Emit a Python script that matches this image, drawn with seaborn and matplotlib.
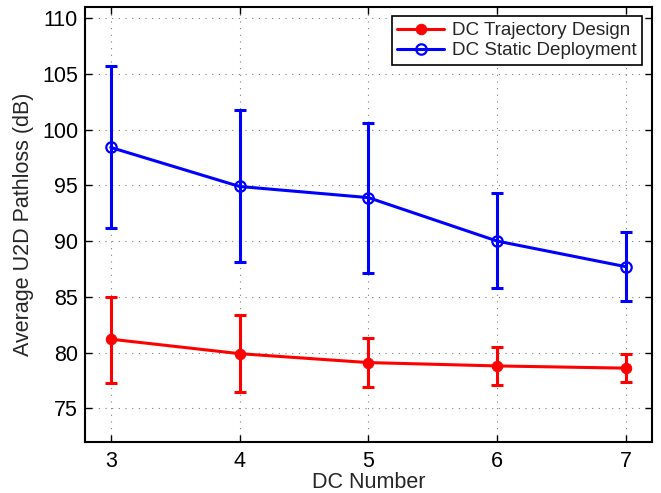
import numpy as np
import pandas as pd
import seaborn as sns
import matplotlib.pyplot as plt

# 데이터
dc_number = [3, 4, 5, 6, 7]
traj_mean = [81.2, 79.9, 79.1, 78.8, 78.6]
traj_low = [77.3, 76.5, 76.9, 77.1, 77.4]
traj_high = [85.0, 83.4, 81.3, 80.5, 79.9]
static_mean = [98.4, 94.9, 93.9, 90.0, 87.7]
static_low = [91.2, 88.1, 87.1, 85.8, 84.6]
static_high = [105.7, 101.8, 100.6, 94.3, 90.8]

sns.set_style("ticks")
plt.rcParams['font.family'] = ['Liberation Sans', 'DejaVu Sans']
plt.rcParams['xtick.direction'] = 'in'
plt.rcParams['ytick.direction'] = 'in'

df = pd.DataFrame({
    'DC Number': dc_number * 2,
    'pathloss': traj_mean + static_mean,
    'series': ['DC Trajectory Design'] * 5 + ['DC Static Deployment'] * 5,
})

fig = plt.figure(figsize=(6.61, 4.93), dpi=100)
ax = fig.add_axes([0.1286, 0.104, 0.8574, 0.8818])

ax.grid(True, color='gray', linestyle=(0, (1, 5)), linewidth=0.8)
ax.set_axisbelow(True)

# 에러바
ax.errorbar(dc_number, traj_mean,
            yerr=[np.subtract(traj_mean, traj_low), np.subtract(traj_high, traj_mean)],
            fmt='none', ecolor='red', elinewidth=2.2, capsize=4, capthick=2.2, zorder=3)
ax.errorbar(dc_number, static_mean,
            yerr=[np.subtract(static_mean, static_low), np.subtract(static_high, static_mean)],
            fmt='none', ecolor='blue', elinewidth=2.2, capsize=4, capthick=2.2, zorder=3)

sns.lineplot(data=df[df['series'] == 'DC Trajectory Design'], x='DC Number', y='pathloss',
             color='red', linewidth=2.2, marker='o', markersize=7.5,
             markerfacecolor='red', markeredgecolor='red',
             label='DC Trajectory Design', ax=ax, zorder=4)
sns.lineplot(data=df[df['series'] == 'DC Static Deployment'], x='DC Number', y='pathloss',
             color='blue', linewidth=2.2, marker='o', markersize=7.5,
             markerfacecolor='none', markeredgecolor='blue', markeredgewidth=1.6,
             label='DC Static Deployment', ax=ax, zorder=4)

ax.set_xlim(2.8, 7.2)
ax.set_ylim(72, 111)
ax.set_xticks(dc_number)
ax.set_yticks(np.arange(75, 111, 5))
ax.tick_params(axis='both', labelsize=15.5, length=5, width=1, top=True, right=True, colors='black')
ax.tick_params(axis='x', pad=7)
ax.tick_params(axis='y', pad=5)
for s in ax.spines.values():
    s.set_visible(True)
    s.set_linewidth(1.5)
    s.set_color('black')

ax.set_xlabel('DC Number', fontsize=15.5, labelpad=0)
ax.set_ylabel('Average U2D Pathloss (dB)', fontsize=15.5, labelpad=6)

leg = ax.legend(loc='upper right', fontsize=13.6, frameon=True, fancybox=False,
                edgecolor='black', framealpha=1, handlelength=2.5,
                borderpad=0.3, labelspacing=0.15, handletextpad=0.4,
                borderaxespad=0.5)
leg.get_frame().set_linewidth(1.2)

plt.savefig('out.png', dpi=100)
